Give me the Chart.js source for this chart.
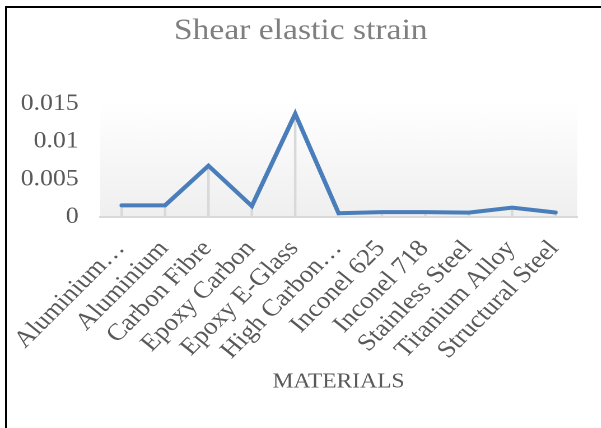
<!DOCTYPE html>
<html>
<head>
<meta charset="utf-8">
<script src="https://cdn.jsdelivr.net/npm/chart.js@4/dist/chart.umd.min.js"></script>
<style>
  html, body { margin: 0; padding: 0; background: #fff; overflow: hidden; width: 601px; height: 428px; }
  #wrap { position: absolute; left: 0; top: 0; width: 537px; height: 428px; transform: scaleX(1.12); transform-origin: 0 0; }
  .rule { position: absolute; background: #000; pointer-events: none; }
  #ruleLeft { left: 5px; top: 6px; width: 2px; height: 422px; }
  #ruleTop { left: 5px; top: 6px; width: 596px; height: 2px; }
</style>
</head>
<body>
<div id="wrap"><canvas id="c" width="537" height="428"></canvas></div>
<div class="rule" id="ruleLeft"></div>
<div class="rule" id="ruleTop"></div>
<script>
// Shear elastic strain per material
const materials = [
  'Aluminium…', 'Aluminium', 'Carbon Fibre', 'Epoxy Carbon', 'Epoxy E-Glass',
  'High Carbon…', 'Inconel 625', 'Inconel 718', 'Stainless Steel', 'Titanium Alloy', 'Structural Steel'
];
const shearStrain = [0.00155, 0.00155, 0.0068, 0.00145, 0.0137, 0.0005, 0.00065, 0.00065, 0.00058, 0.00125, 0.0006];
const yTickLabels = ['0', '0.005', '0.01', '0.015'];

const SERIF = "'Liberation Serif', 'Times New Roman', serif";

// soft grey gradient behind the plot area
const plotBackground = {
  id: 'plotBackground',
  beforeDraw(chart) {
    const { ctx, chartArea: a } = chart;
    const g = ctx.createLinearGradient(0, a.top, 0, a.bottom);
    g.addColorStop(0, '#ffffff');
    g.addColorStop(1, '#efefef');
    ctx.save();
    ctx.fillStyle = g;
    ctx.fillRect(a.left, a.top, a.right - a.left, a.bottom - a.top);
    ctx.restore();
  }
};

new Chart(document.getElementById('c'), {
  data: {
    labels: materials,
    datasets: [
      {
        // strain curve
        type: 'line',
        order: 0,
        data: shearStrain,
        borderColor: '#4a7ebb',
        borderWidth: 4,
        borderCapStyle: 'round',
        borderJoinStyle: 'miter',
        pointRadius: 0,
        tension: 0,
        fill: false
      },
      {
        // thin drop lines from each point down to the axis
        type: 'bar',
        order: 1,
        data: shearStrain,
        backgroundColor: '#d9d9d9',
        borderWidth: 0,
        barThickness: 1.6
      }
    ]
  },
  options: {
    responsive: false,
    devicePixelRatio: 2,
    animation: false,
    layout: { padding: { left: 0, right: 0, top: 0, bottom: 33.4 } },
    plugins: {
      legend: { display: false },
      tooltip: { enabled: false },
      title: {
        display: true,
        text: 'Shear elastic strain',
        color: '#7f7f7f',
        font: { family: SERIF, size: 30, weight: 'normal' },
        padding: { top: 13, bottom: 55 }
      }
    },
    scales: {
      x: {
        offset: true,
        grid: { display: false, drawTicks: false },
        border: { display: true, color: '#d9d9d9', width: 2 },
        ticks: {
          autoSkip: false,
          minRotation: 48,
          maxRotation: 48,
          padding: 18,
          labelOffset: -1,
          color: '#595959',
          font: { family: SERIF, size: 24 }
        },
        title: {
          display: true,
          text: 'MATERIALS',
          color: '#595959',
          font: { family: SERIF, size: 21 },
          padding: { top: 0, bottom: 0 }
        },
        afterFit(scale) {
          scale.height = 177.6;
          scale.paddingLeft = 0;
          scale.paddingRight = 0;
        }
      },
      y: {
        min: 0,
        max: 0.015,
        grid: { display: false, drawTicks: false },
        border: { display: false },
        ticks: {
          stepSize: 0.005,
          padding: 19,
          color: '#595959',
          font: { family: SERIF, size: 23 },
          callback: (v, i) => yTickLabels[i]
        },
        afterFit(scale) {
          scale.width = 89.3;
        }
      },
      // empty right-hand margin so the title stays centred on the whole frame
      yMargin: {
        position: 'right',
        display: true,
        grid: { display: false, drawTicks: false },
        border: { display: false },
        ticks: { display: false },
        afterFit(scale) {
          scale.width = 21.7;
        }
      }
    }
  },
  plugins: [plotBackground]
});
</script>
</body>
</html>
